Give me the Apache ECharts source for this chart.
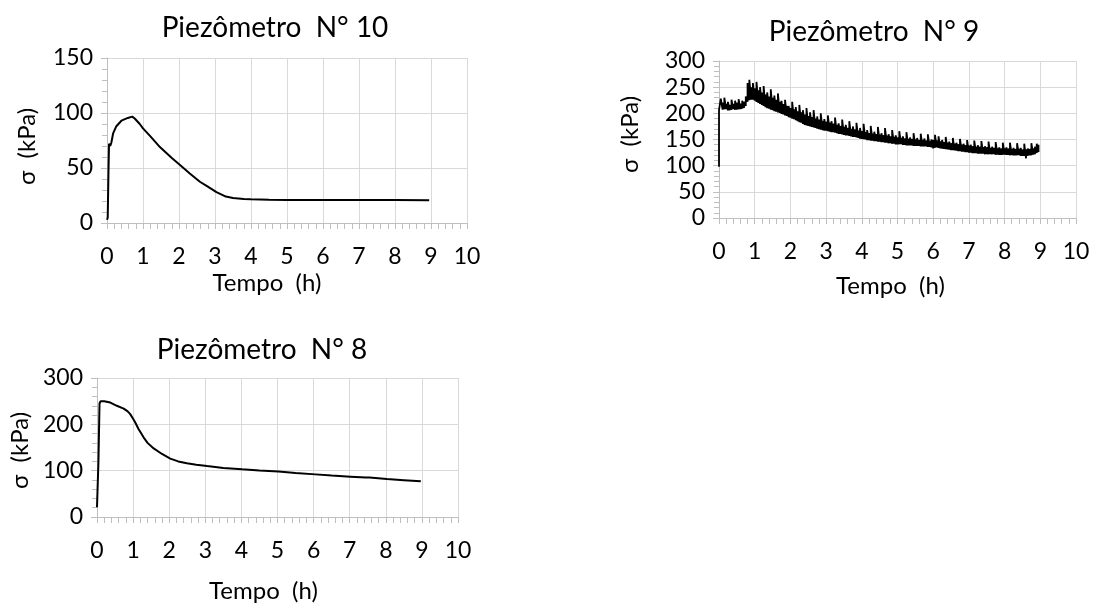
<!DOCTYPE html>
<html><head><meta charset="utf-8">
<script src="https://cdn.jsdelivr.net/npm/echarts@6/dist/echarts.min.js"></script>
<style>html,body{margin:0;padding:0;background:#fff}#c{width:1094px;height:604px}</style>
</head><body><div id="c"></div>
<script>
const titles = ['Piezômetro  N° 10', 'Piezômetro  N° 9', 'Piezômetro  N° 8'];
const xName = 'Tempo  (h)';
const yName = 'σ  (kPa)';

const p10Time = [0, 0.02, 0.04, 0.056, 0.09, 0.12, 0.17, 0.26, 0.4, 0.58, 0.7, 0.77, 0.91, 1.0, 1.2, 1.47, 1.8, 2.02, 2.3, 2.58, 2.8, 3.04, 3.3, 3.5, 3.8, 4.0, 4.5, 5, 6, 7, 8, 8.95];
const p10Stress = [3, 5, 45, 72, 70, 73, 81.5, 88, 93, 95.5, 96.7, 95, 90, 86, 79, 69, 59, 53, 45, 37.5, 33, 28, 24, 22.8, 21.8, 21.5, 21.2, 21, 20.9, 20.8, 20.8, 20.7];

const p9Time = [0, 0.05, 0.10, 0.15, 0.20, 0.25, 0.30, 0.35, 0.40, 0.45, 0.50, 0.55, 0.60, 0.65, 0.70, 0.75, 0.80, 0.85, 0.90, 0.95,
  1.00, 1.05, 1.10, 1.15, 1.20, 1.25, 1.30, 1.35, 1.40, 1.45, 1.50, 1.55, 1.60, 1.65, 1.70, 1.75, 1.80, 1.85, 1.90, 1.95,
  2.00, 2.05, 2.10, 2.15, 2.20, 2.25, 2.30, 2.35, 2.40, 2.45, 2.50, 2.55, 2.60, 2.65, 2.70, 2.75, 2.80, 2.85, 2.90, 2.95,
  3.00, 3.05, 3.10, 3.15, 3.20, 3.25, 3.30, 3.35, 3.40, 3.45, 3.50, 3.55, 3.60, 3.65, 3.70, 3.75, 3.80, 3.85, 3.90, 3.95,
  4.00, 4.05, 4.10, 4.15, 4.20, 4.25, 4.30, 4.35, 4.40, 4.45, 4.50, 4.55, 4.60, 4.65, 4.70, 4.75, 4.80, 4.85, 4.90, 4.95,
  5.00, 5.05, 5.10, 5.15, 5.20, 5.25, 5.30, 5.35, 5.40, 5.45, 5.50, 5.55, 5.60, 5.65, 5.70, 5.75, 5.80, 5.85, 5.90, 5.95,
  6.00, 6.05, 6.10, 6.15, 6.20, 6.25, 6.30, 6.35, 6.40, 6.45, 6.50, 6.55, 6.60, 6.65, 6.70, 6.75, 6.80, 6.85, 6.90, 6.95,
  7.00, 7.05, 7.10, 7.15, 7.20, 7.25, 7.30, 7.35, 7.40, 7.45, 7.50, 7.55, 7.60, 7.65, 7.70, 7.75, 7.80, 7.85, 7.90, 7.95,
  8.00, 8.05, 8.10, 8.15, 8.20, 8.25, 8.30, 8.35, 8.40, 8.45, 8.50, 8.55, 8.60, 8.65, 8.70, 8.75, 8.80, 8.85, 8.90, 8.95];
const p9Low = [98, 207, 207, 208, 208, 206, 206, 207, 208, 207, 207, 208, 208, 209, 210, 214, 222, 225, 226, 226,
  224, 222, 220, 218, 216, 214, 212, 210, 209, 207, 206, 204, 203, 202, 201, 199, 198, 196, 195, 193,
  192, 190, 189, 187, 185, 183, 182, 180, 178, 177, 176, 175, 174, 173, 172, 171, 170, 169, 168, 167,
  167, 166, 165, 164, 164, 163, 162, 161, 161, 160, 159, 158, 158, 157, 156, 155, 155, 154, 153, 152,
  151, 151, 150, 149, 149, 148, 148, 147, 147, 146, 146, 145, 145, 144, 144, 143, 143, 142, 142, 141,
  141, 141, 141, 140, 140, 139, 139, 139, 139, 138, 138, 138, 138, 137, 137, 137, 137, 136, 136, 135,
  133, 134, 135, 134, 133, 133, 132, 132, 131, 131, 130, 130, 129, 129, 128, 128, 127, 127, 126, 126,
  125, 125, 124, 124, 124, 123, 123, 123, 123, 122, 122, 122, 122, 122, 122, 121, 121, 121, 121, 121,
  121, 121, 121, 120, 120, 120, 120, 120, 120, 119, 119, 119, 114, 119, 120, 120, 121, 122, 124, 126];
const p9High = [206, 228, 220, 230, 218, 222, 216, 226, 218, 224, 220, 227, 218, 224, 222, 232, 258, 264, 250, 258,
  248, 260, 244, 250, 240, 252, 236, 240, 232, 246, 230, 234, 226, 238, 222, 224, 218, 226, 214, 214,
  210, 222, 208, 212, 204, 216, 202, 206, 198, 210, 195, 202, 193, 206, 190, 194, 188, 200, 186, 189,
  184, 196, 182, 185, 180, 192, 178, 181, 176, 188, 174, 178, 172, 185, 170, 175, 169, 182, 167, 172,
  166, 180, 164, 168, 162, 176, 161, 165, 160, 174, 159, 162, 158, 172, 157, 160, 156, 168, 155, 158,
  154, 166, 153, 156, 152, 164, 151, 154, 151, 162, 150, 153, 149, 161, 149, 152, 148, 160, 147, 150,
  149, 159, 148, 156, 146, 149, 145, 155, 144, 146, 143, 153, 142, 144, 141, 151, 140, 142, 139, 149,
  138, 140, 137, 148, 136, 139, 136, 147, 135, 137, 135, 146, 134, 136, 134, 145, 133, 135, 133, 144,
  133, 135, 133, 144, 132, 134, 132, 143, 132, 134, 131, 142, 131, 133, 132, 143, 133, 136, 142, 140];

const p8Time = [0, 0.02, 0.04, 0.07, 0.1, 0.2, 0.37, 0.55, 0.74, 0.85, 0.92, 1.0, 1.06, 1.15, 1.29, 1.4, 1.57, 1.8, 2.03, 2.25, 2.49, 2.75, 3.05, 3.5, 4.02, 4.5, 5.03, 5.5, 6.05, 6.5, 7.02, 7.45, 7.5, 7.55, 8.03, 8.5, 8.97];
const p8Stress = [21, 21, 120, 245, 250, 250, 247, 240, 234, 228, 222, 212, 204, 190, 172, 160, 148, 136, 126, 120, 116, 113, 110, 106, 103, 100.5, 98, 95, 92, 89.5, 87, 85, 89, 85, 82, 79.5, 77];

const xTicks = [0, 10, 1];
const yRanges = [[0, 150, 50], [0, 300, 50], [0, 300, 100]];

const FONT = 'Lato';
const grids = [
  {left: 107, top: 58, width: 360, height: 165},
  {left: 719, top: 61, width: 357, height: 157},
  {left: 97, top: 378, width: 361, height: 141}
];
const titlePos = [[270, 9], [869, 13], [257, 331]];
const xNameGap = [48, 56, 62];
const yNameGap = [68, 77, 65];
const xNamePad = [[0, 40, 0, 0], [0, 14, 0, 0], [0, 28, 0, 0]];
const yNamePad = [[0, 12, 0, 0], [0, 0, 0, 10], [0, 6, 0, 0]];

function pairs(t, v) { return t.map((x, i) => [x, v[i]]); }
function band(t, lo, hi) {
  const out = [];
  t.forEach((x, i) => { out.push([x, lo[i]]); out.push([x, hi[i]]); });
  return out;
}
const seriesData = [pairs(p10Time, p10Stress), band(p9Time, p9Low, p9High), pairs(p8Time, p8Stress)];

const axisLineColor = '#bfbfbf';
const gridColor = '#d9d9d9';

const option = {
  animation: false,
  backgroundColor: '#fff',
  title: titles.map((t, i) => ({
    text: t, left: titlePos[i][0], top: titlePos[i][1], textAlign: 'center',
    textStyle: {fontFamily: FONT, fontSize: 28, fontWeight: 'normal', color: '#000'}
  })),
  grid: grids.map(g => Object.assign({containLabel: false}, g)),
  xAxis: grids.map((g, i) => ({
    type: 'value', gridIndex: i, min: xTicks[0], max: xTicks[1], interval: xTicks[2],
    name: xName, nameLocation: 'middle', nameGap: xNameGap[i],
    nameTextStyle: {fontFamily: FONT, fontSize: 24, color: '#000', padding: xNamePad[i]},
    axisLine: {show: true, lineStyle: {color: axisLineColor, width: 1}},
    axisTick: {show: true, length: 6, lineStyle: {color: axisLineColor}},
    minorTick: {show: true, splitNumber: 5, length: 6, lineStyle: {color: axisLineColor}},
    splitLine: {show: true, lineStyle: {color: gridColor, width: 1}},
    axisLabel: {fontFamily: FONT, fontSize: 23, color: '#000', margin: 22}
  })),
  yAxis: grids.map((g, i) => ({
    type: 'value', gridIndex: i, min: yRanges[i][0], max: yRanges[i][1], interval: yRanges[i][2],
    name: yName, nameLocation: 'middle', nameGap: yNameGap[i],
    nameTextStyle: {fontFamily: FONT, fontSize: 24, color: '#000', padding: yNamePad[i]},
    axisLine: {show: true, lineStyle: {color: axisLineColor, width: 1}},
    axisTick: {show: true, length: 6, lineStyle: {color: axisLineColor}},
    minorTick: {show: true, splitNumber: 5, length: 5, lineStyle: {color: axisLineColor}},
    splitLine: {show: true, lineStyle: {color: gridColor, width: 1}},
    axisLabel: {fontFamily: FONT, fontSize: 23, color: '#000', margin: 14}
  })),
  series: seriesData.map((d, i) => ({
    type: 'line', xAxisIndex: i, yAxisIndex: i, data: d,
    showSymbol: false, symbol: 'none', smooth: false,
    lineStyle: {color: '#000', width: i === 1 ? 1.8 : 2}
  }))
};
const chart = echarts.init(document.getElementById('c'), null, {renderer: 'canvas'});
chart.setOption(option);
</script></body></html>
